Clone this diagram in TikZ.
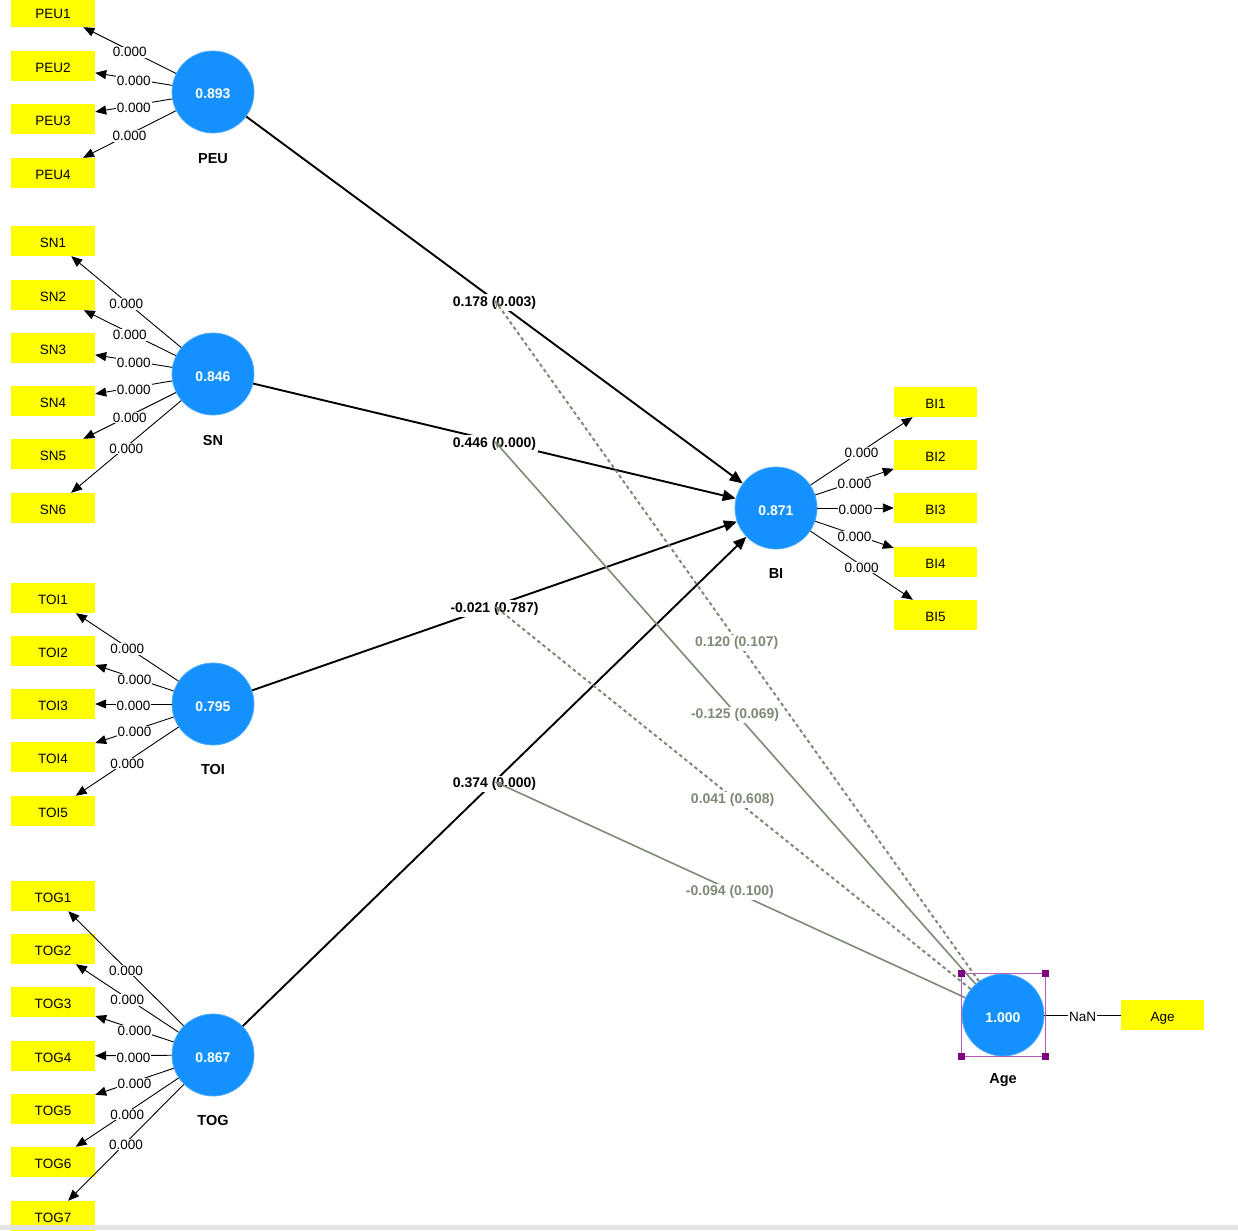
\documentclass[tikz,border=0pt]{standalone}
\usepackage{fontspec}
\setmainfont{Liberation Sans}
\usetikzlibrary{arrows.meta,calc}
\definecolor{plsblue}{RGB}{20,144,255}
\definecolor{plsyellow}{RGB}{255,255,0}
\definecolor{modgray}{RGB}{125,138,118}
\definecolor{selline}{RGB}{185,90,185}
\definecolor{selmark}{RGB}{128,0,128}
\begin{document}
\begin{tikzpicture}[x=1pt,y=-1pt,
  lat/.style={circle,fill=plsblue,draw=plsblue!75!white,line width=0.8pt,minimum size=82pt,inner sep=0pt,text=white,text height=14pt,text depth=0pt,font=\fontsize{14}{16}\selectfont\bfseries},
  ind/.style={rectangle,fill=plsyellow,minimum width=84pt,minimum height=30pt,inner sep=0pt,text height=13.5pt,text depth=0pt,font=\fontsize{13.5}{16}\selectfont},
  latname/.style={yshift=-1.5pt,font=\fontsize{14.5}{16}\selectfont\bfseries},
  lbl/.style={fill=white,inner sep=1pt,yshift=-2pt,font=\fontsize{13.5}{16}\selectfont},
  plbl/.style={fill=white,inner sep=1.5pt,yshift=-2.5pt,font=\fontsize{14}{16}\selectfont\bfseries},
  mlbl/.style={fill=white,inner sep=1.5pt,yshift=-2.5pt,text=modgray,font=\fontsize{14}{16}\selectfont\bfseries},
  load/.style={draw=black,line width=0.9pt,-{Triangle[length=11pt,width=9pt]}},
  struct/.style={draw=black,line width=1.9pt,-{Triangle[length=13pt,width=11pt]}},
  moddash/.style={draw=modgray,line width=2pt,dash pattern=on 3.5pt off 3pt,-{Stealth[length=8pt,width=6pt]}},
  modsolid/.style={draw=modgray,line width=1.6pt,-{Stealth[length=8pt,width=6pt]}}
]
\useasboundingbox (0,0) rectangle (1238,1230);
\clip (0,0) rectangle (1238,1230);
\fill[white] (0,0) rectangle (1238,1230);

% latent variables
\node[lat] (PEU) at (213,92) {0.893};
\node[lat] (SN) at (213,374) {0.846};
\node[lat] (TOI) at (213,704) {0.795};
\node[lat] (TOG) at (213,1055) {0.867};
\node[lat] (BI) at (776,508) {0.871};
\node[lat] (Age) at (1003,1015) {1.000};

\node[latname] (PEUn) at (213,157) {PEU};
\node[latname] (SNn) at (213,439) {SN};
\node[latname] (TOIn) at (213,768) {TOI};
\node[latname] (TOGn) at (213,1119) {TOG};
\node[latname] (BIn) at (776,572) {BI};
\node[latname] (Agen) at (1003,1079) {Age};

% indicators
\foreach \n/\y in {1/12,2/66,3/119,4/173} \node[ind] (PEU\n) at (53,\y) {PEU\n};
\foreach \n/\y in {1/241,2/295,3/348,4/401,5/454,6/508} \node[ind] (SN\n) at (53,\y) {SN\n};
\foreach \n/\y in {1/598,2/651,3/704,4/757,5/811} \node[ind] (TOI\n) at (53,\y) {TOI\n};
\foreach \n/\y in {1/896,2/949,3/1002,4/1056,5/1109,6/1162,7/1216} \node[ind] (TOG\n) at (53,\y) {TOG\n};
\foreach \n/\y in {1/402,2/455,3/508,4/562,5/615} \node[ind,minimum width=83pt] (BI\n) at (935.5,\y) {BI\n};
\node[ind,minimum width=83pt] (AgeI) at (1162.5,1015) {Age};

% loadings
\foreach \n in {1,...,4} \draw[load] (PEU) -- node[lbl]{0.000} (PEU\n);
\foreach \n in {1,...,6} \draw[load] (SN) -- node[lbl]{0.000} (SN\n);
\foreach \n in {1,...,5} \draw[load] (TOI) -- node[lbl]{0.000} (TOI\n);
\foreach \n in {1,...,7} \draw[load] (TOG) -- node[lbl]{0.000} (TOG\n);
\foreach \n in {1,...,5} \draw[load] (BI) -- node[lbl]{0.000} (BI\n);
\draw[black,line width=0.9pt] (Age) -- node[lbl]{NaN} (AgeI);

% structural paths
\draw[struct] (PEU) -- node[plbl]{0.178 (0.003)} (BI);
\draw[struct] (SN) -- node[plbl]{0.446 (0.000)} (BI);
\draw[struct] (TOI) -- node[plbl]{-0.021 (0.787)} (BI);
\draw[struct] (TOG) -- node[plbl]{0.374 (0.000)} (BI);

\coordinate (m1) at ($(PEU)!0.5!(BI)$);
\coordinate (m2) at ($(SN)!0.5!(BI)$);
\coordinate (m3) at ($(TOI)!0.5!(BI)$);
\coordinate (m4) at ($(TOG)!0.5!(BI)$);

% moderating effects
\draw[moddash] (Age) -- node[mlbl]{0.120 (0.107)} (m1);
\draw[modsolid] (Age) -- node[mlbl]{-0.125 (0.069)} (m2);
\draw[moddash] (Age) -- node[mlbl]{0.041 (0.608)} (m3);
\draw[modsolid] (Age) -- node[mlbl]{-0.094 (0.100)} (m4);

% selection frame
\draw[selline,line width=1pt] (961,973) rectangle (1045,1056);
\foreach \cx/\cy in {961/973,1045/973,961/1056,1045/1056}
  \fill[selmark] (\cx-3.5,\cy-3.5) rectangle (\cx+3.5,\cy+3.5);

% bottom bar
\fill[gray!22] (0,1225) rectangle (1238,1230);
\end{tikzpicture}
\end{document}
